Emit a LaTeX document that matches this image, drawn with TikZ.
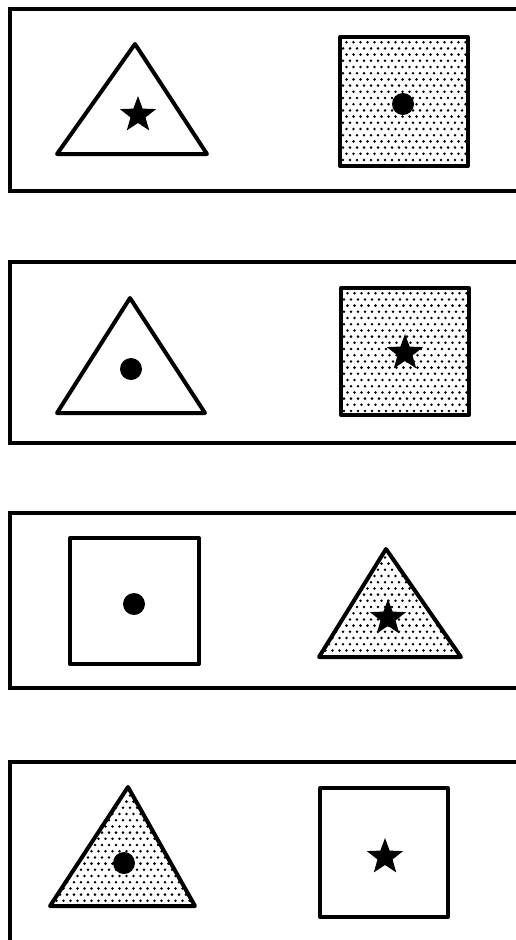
\documentclass[tikz,border=0pt]{standalone}
\usetikzlibrary{shapes.geometric}

\tikzset{
  panel/.style={line width=3.2pt},
  figline/.style={line width=4pt, line join=round},
  starmark/.style={star, star points=5, star point ratio=2.4, fill=black, inner sep=0pt, minimum size=38pt},
  dotmark/.style={circle, fill=black, inner sep=0pt, minimum size=22pt},
}

% stippled fill over a patch starting at (#1,#2)
\newcommand{\stipple}[2]{%
  \foreach \r in {0,...,26}{
    \foreach \c in {0,...,22}{
      \fill ({#1+7*\c+3.5*mod(\r,2)},{#2+6.2*\r}) circle (1.4);
    }
  }%
}

\begin{document}
\begin{tikzpicture}[x=1pt, y=-1pt]
    \useasboundingbox (0,0) rectangle (516,940);
    \clip (0,0) rectangle (516,940);

    % panel frames
    \draw[panel] (10,9) rectangle (540,191);
    \draw[panel] (10,262) rectangle (540,443);
    \draw[panel] (10,513) rectangle (540,688);
    \draw[panel] (10,762) rectangle (540,960);

    % panel 1
    \coordinate (t1a) at (135,44);
    \coordinate (t1b) at (57,154);
    \coordinate (t1c) at (207,154);
    \draw[figline] (t1a) -- (t1b) -- (t1c) -- cycle;
    \node[starmark] (star1) at (138,115) {};
    \begin{scope}
        \clip (340,37) rectangle (468,166);
        \stipple{336}{36}
    \end{scope}
    \draw[figline] (340,37) rectangle (468,166);
    \node[dotmark] (dot1) at (403,104) {};

    % panel 2
    \coordinate (t2a) at (130,298);
    \coordinate (t2b) at (57,413);
    \coordinate (t2c) at (205,413);
    \draw[figline] (t2a) -- (t2b) -- (t2c) -- cycle;
    \node[dotmark] (dot2) at (131,369) {};
    \begin{scope}
        \clip (341,288) rectangle (469,415);
        \stipple{337}{287}
    \end{scope}
    \draw[figline] (341,288) rectangle (469,415);
    \node[starmark] (star2) at (405,353) {};

    % panel 3
    \draw[figline] (70,538) rectangle (199,664);
    \node[dotmark] (dot3) at (134,604) {};
    \coordinate (t3a) at (386,549);
    \coordinate (t3b) at (319,657);
    \coordinate (t3c) at (461,657);
    \begin{scope}
        \clip (t3a) -- (t3b) -- (t3c) -- cycle;
        \stipple{315}{545}
    \end{scope}
    \draw[figline] (t3a) -- (t3b) -- (t3c) -- cycle;
    \node[starmark] (star3) at (388,618) {};

    % panel 4
    \coordinate (t4a) at (128,787);
    \coordinate (t4b) at (50,906);
    \coordinate (t4c) at (195,906);
    \begin{scope}
        \clip (t4a) -- (t4b) -- (t4c) -- cycle;
        \stipple{46}{783}
    \end{scope}
    \draw[figline] (t4a) -- (t4b) -- (t4c) -- cycle;
    \node[dotmark] (dot4) at (124,863) {};
    \draw[figline] (320,788) rectangle (448,917);
    \node[starmark] (star4) at (385,857) {};
\end{tikzpicture}
\end{document}
